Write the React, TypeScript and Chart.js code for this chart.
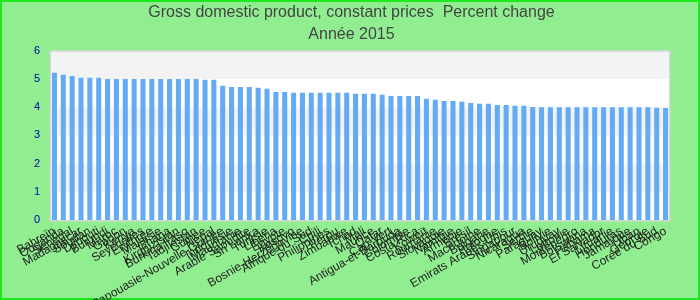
import React, { useEffect, useRef } from "react";
import { Chart, registerables } from "chart.js";

Chart.register(...registerables);

const titleLines = ["Gross domestic product, constant prices  Percent change", "Année 2015"];

const countries = [
  "Bahreïn", "Ouganda", "Sénégal", "Madagascar", "Soudan", "Djibouti", "Burundi", "Maroc", "Gabon", "Kenya",
  "Seychelles", "Érythrée", "Malaisie", "Ghana", "Kirghizistan", "Burkina Faso", "Tadjikistan", "Guinée", "Népal", "Papouasie-Nouvelle-Guinée",
  "Indonésie", "Mauritanie", "Arabie Saoudite", "Sri Lanka", "Tunisie", "Liberia", "Égypte", "Kosovo", "Bosnie-Herzégovine", "Afrique du Sud",
  "Chili", "Philippines", "Pérou", "Zimbabwe", "Tchad", "Mali", "Maurice", "Qatar", "Cap-Vert", "Antigua-et-Barbuda",
  "Colombie", "Costa Rica", "Koweït", "Roumanie", "Slovaquie", "Namibie", "Arménie", "Brésil", "Macédoine", "Bulgarie",
  "Pologne", "Emirats Arabes Unis", "Singapour", "Nicaragua", "Serbie", "Paraguay", "Bolivie", "Uruguay", "Lettonie", "Monténégro",
  "Botswana", "Panama", "El Salvador", "Lituanie", "Honduras", "Jamaïque", "Liban", "Géorgie", "Corée du Sud", "Congo",
];

const growth = [
  5.22, 5.15, 5.11, 5.04, 5.04, 5.04, 5.0, 5.0, 5.0, 5.0,
  5.0, 5.0, 5.0, 5.0, 5.0, 5.0, 5.0, 4.97, 4.97, 4.76,
  4.72, 4.72, 4.72, 4.69, 4.65, 4.54, 4.54, 4.51, 4.51, 4.51,
  4.51, 4.51, 4.51, 4.51, 4.48, 4.48, 4.48, 4.44, 4.4, 4.4,
  4.4, 4.4, 4.3, 4.26, 4.22, 4.22, 4.19, 4.15, 4.12, 4.12,
  4.08, 4.08, 4.05, 4.05, 4.01, 4.0, 4.0, 4.0, 4.0, 4.0,
  4.0, 4.0, 4.0, 4.0, 4.0, 4.0, 4.0, 4.0, 3.98, 3.97,
];

const yTicks = [0, 1, 2, 3, 4, 5, 6];

const bgPlugin = {
  id: "bgPlugin",
  beforeDraw(chart: any) {
    const { ctx, chartArea, scales, width, height } = chart;
    ctx.save();
    ctx.fillStyle = "#90ee90";
    ctx.fillRect(0, 0, width, height);
    ctx.strokeStyle = "#1ee81e";
    ctx.lineWidth = 2;
    ctx.strokeRect(1, 1, width - 2, height - 2);
    ctx.fillStyle = "#ffffff";
    ctx.fillRect(chartArea.left, chartArea.top, chartArea.right - chartArea.left, chartArea.bottom - chartArea.top);
    const y = scales.y;
    ctx.fillStyle = "#f3f3f3";
    for (let i = 1; i < yTicks.length - 1; i += 2) {
      const top = y.getPixelForValue(yTicks[i + 1]);
      const bot = y.getPixelForValue(yTicks[i]);
      ctx.fillRect(chartArea.left, top, chartArea.right - chartArea.left, bot - top);
    }
    ctx.restore();
  },
  afterDraw(chart: any) {
    const { ctx, chartArea } = chart;
    ctx.save();
    ctx.strokeStyle = "#d6d6d6";
    ctx.lineWidth = 1.5;
    ctx.strokeRect(chartArea.left + 0.25, chartArea.top + 0.25, chartArea.right - chartArea.left - 0.5, chartArea.bottom - chartArea.top + 0.5);
    ctx.restore();
  },
};

export default function App() {
  const ref = useRef<HTMLCanvasElement>(null);
  useEffect(() => {
    document.body.style.margin = "0";
    const chart = new Chart(ref.current!, {
      type: "bar",
      data: {
        labels: countries,
        datasets: [
          {
            data: growth,
            backgroundColor: "#64abf5",
            borderWidth: 0,
            barPercentage: 0.57,
            categoryPercentage: 1,
          },
        ],
      },
      options: {
        responsive: false,
        animation: false,
        layout: { padding: { left: 33, right: 30, top: 0, bottom: 0 } },
        plugins: {
          legend: { display: false },
          tooltip: { enabled: false },
          title: {
            display: true,
            text: titleLines,
            color: "#444444",
            font: { family: "Liberation Sans", size: 16, weight: "normal", lineHeight: 1.4 },
            padding: { top: 1, bottom: 5 },
          },
        },
        scales: {
          x: {
            grid: { display: false, drawTicks: false },
            border: { display: false },
            afterFit(scale: any) {
              scale.height = 80;
              scale.paddingLeft = 0;
              scale.paddingRight = 0;
            },
            ticks: {
              autoSkip: false,
              minRotation: 30,
              maxRotation: 30,
              color: "#222222",
              padding: 4,
              font: { family: "Liberation Sans", size: 12 },
            },
          },
          y: {
            min: yTicks[0],
            max: yTicks[yTicks.length - 1],
            grid: { display: false, drawTicks: false },
            border: { display: false },
            afterFit(scale: any) {
              scale.width = 17;
            },
            ticks: {
              stepSize: 1,
              color: "#0000aa",
              padding: 10,
              font: { family: "Liberation Sans", size: 11 },
            },
          },
        },
      },
      plugins: [bgPlugin],
    });
    return () => chart.destroy();
  }, []);
  return <canvas ref={ref} width={700} height={300} style={{ display: "block", width: 700, height: 300 }} />;
}
